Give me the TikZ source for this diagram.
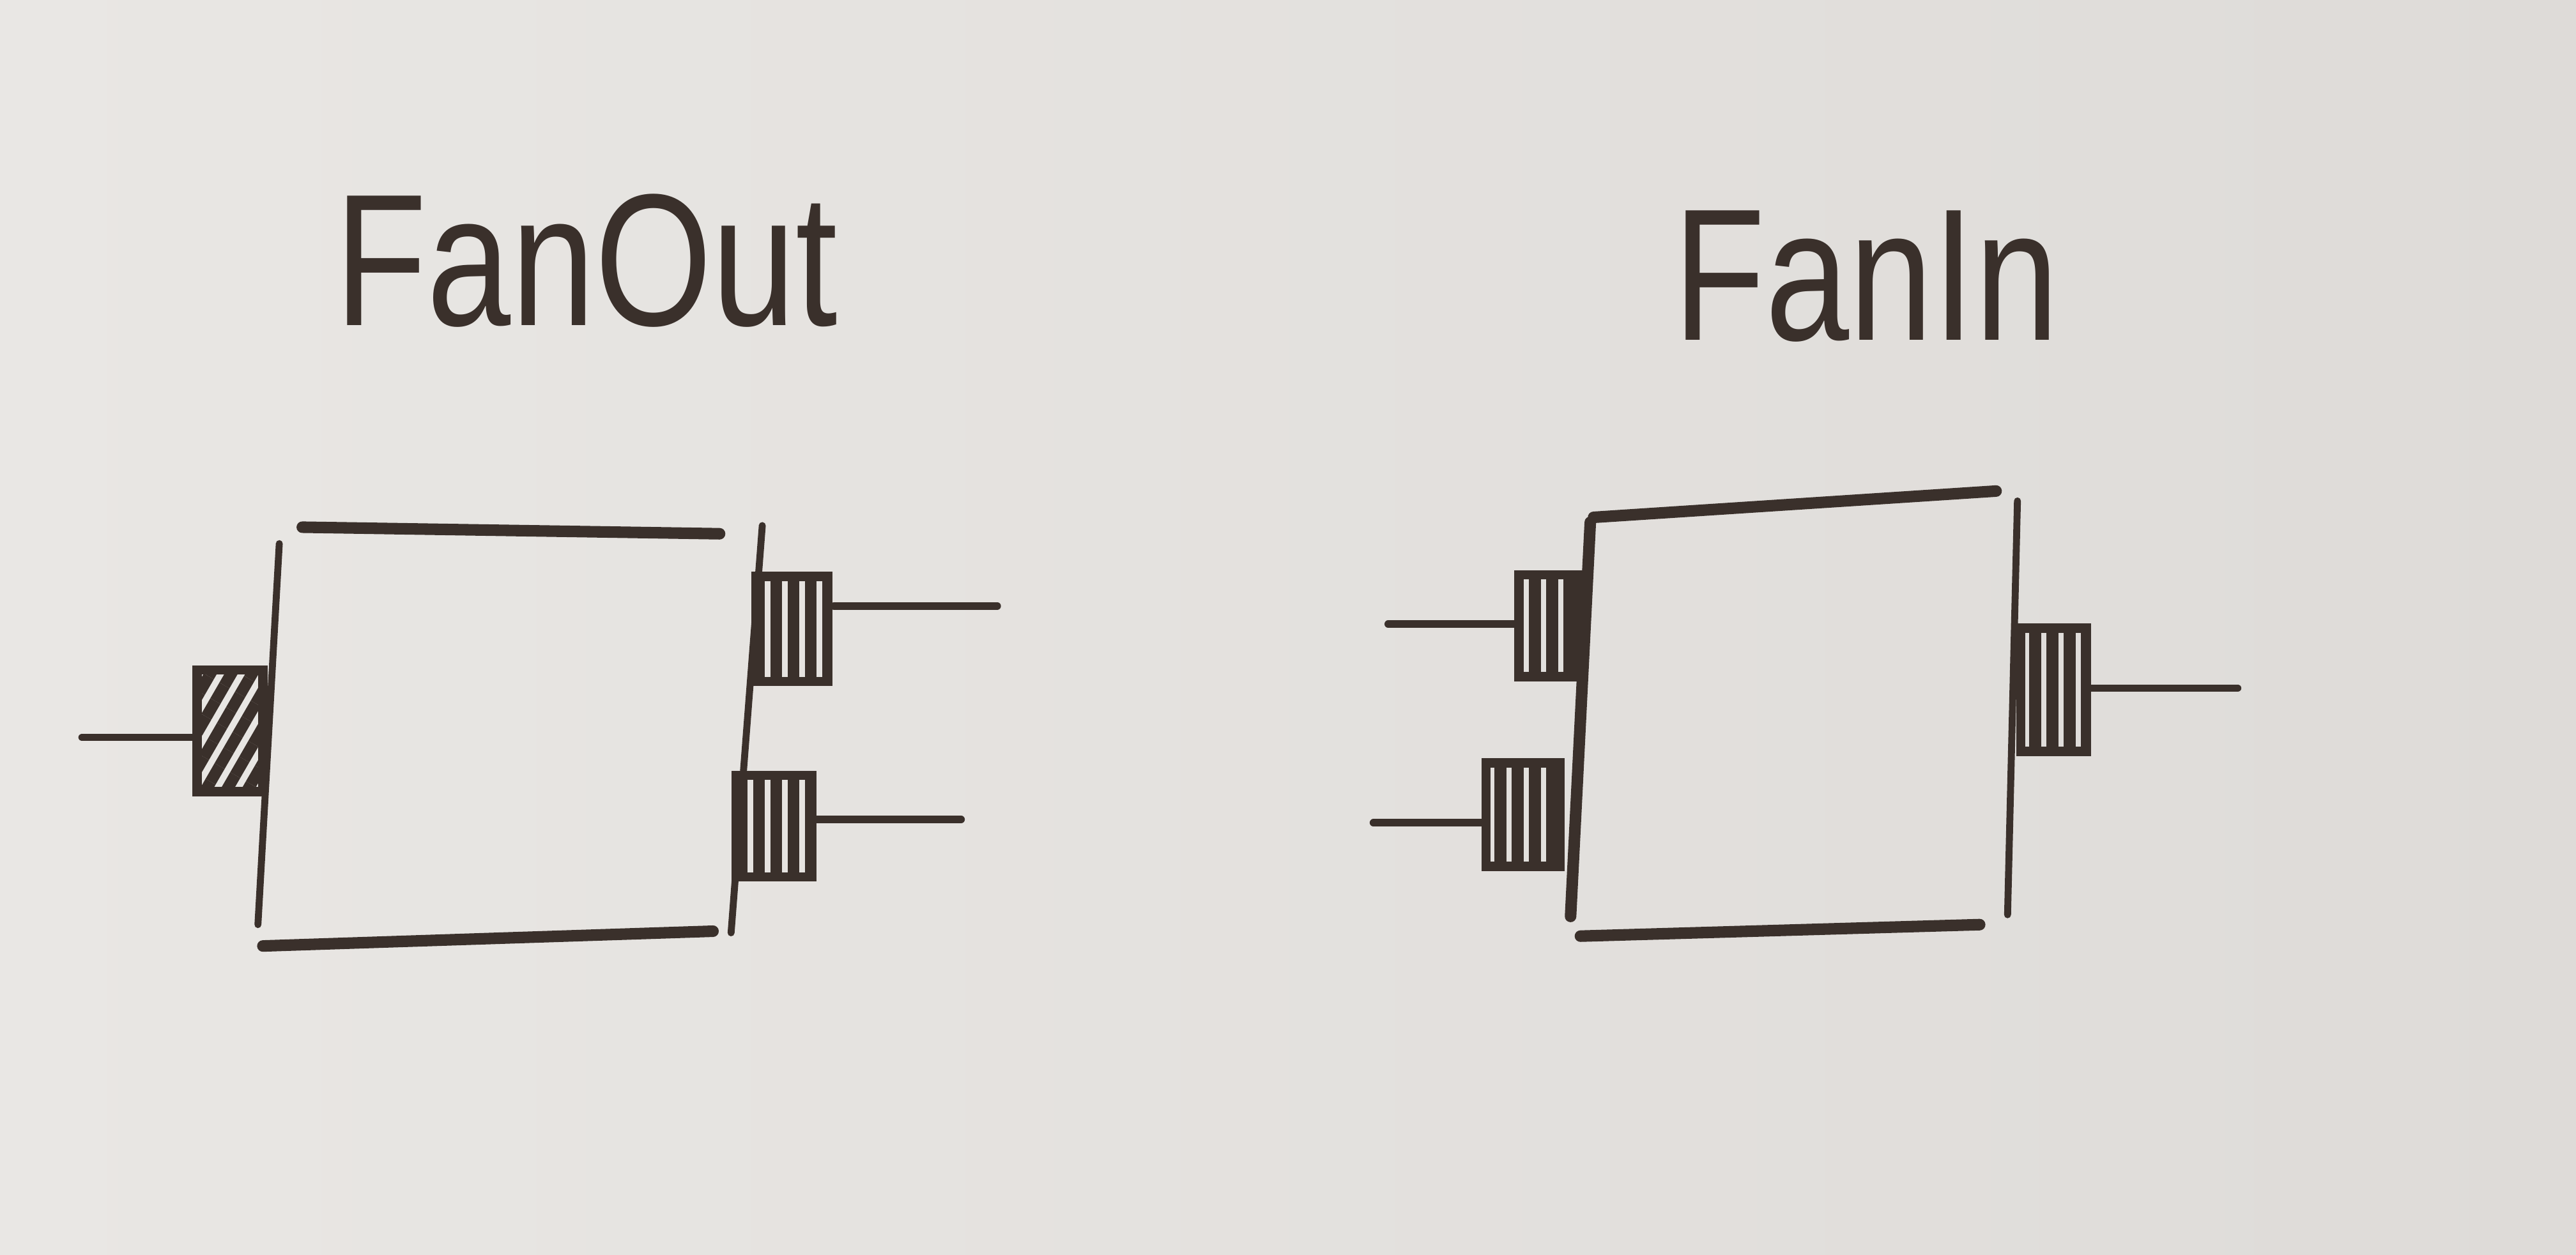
\documentclass[tikz,border=0pt]{standalone}
\usepackage{fontspec}
\setmainfont{Liberation Sans}
\usetikzlibrary{patterns.meta,calc}
\definecolor{ink}{HTML}{3A302B}
\definecolor{bgL}{HTML}{E9E7E4}
\definecolor{bgR}{HTML}{DEDBD8}
\begin{document}
\begin{tikzpicture}[x=0.1mm,y=-0.1mm,
  heavy/.style={draw=ink,line width=2pt,line cap=round},
  thin/.style={draw=ink,line width=1.2pt,line cap=round},
  wire/.style={draw=ink,line width=1.3pt,line cap=round},
  portv/.style={draw=ink,line width=1.6pt,inner sep=0pt,
    pattern={Lines[angle=90,distance=1.05mm,line width=2.1pt]},pattern color=ink},
  portd/.style={draw=ink,line width=1.6pt,inner sep=0pt,
    pattern={Lines[angle=60,distance=1.1mm,line width=2pt]},pattern color=ink},
  title/.style={text=ink,inner sep=0pt,font=\fontsize{32.6}{36}\selectfont}]
% board
\shade[left color=bgL,right color=bgR] (0,0) rectangle (1568,764);
\useasboundingbox (0,0) rectangle (1568,764);

% ---------- Fan Out ----------
\node[title,anchor=base] (t1) at (357,198) {\scalebox{0.8}[1]{FanOut}};
% box sides
\draw[heavy] (184,321) -- (438,325);
\draw[heavy] (160,576) -- (434,567);
\draw[thin] (170,331) -- (157,563);
\draw[thin] (464,320) -- (445,568);
% ports
\node[portd,minimum width=4mm,minimum height=7.4mm] (a1) at (140,445) {};
\node[portv,minimum width=4.4mm,minimum height=6.4mm] (a2) at (482,383) {};
\node[portv,minimum width=4.6mm,minimum height=6.2mm] (a3) at (471,503) {};
% wires
\coordinate (ain) at (50,449);
\coordinate (aout1) at (607,369);
\coordinate (aout2) at (585,499);
\draw[wire] (ain) -- (ain -| a1.west);
\draw[wire] (aout1 -| a2.east) -- (aout1);
\draw[wire] (aout2 -| a3.east) -- (aout2);

% ---------- Fan In ----------
\node[title,anchor=base] (t2) at (1136,207) {\scalebox{0.8}[1]{FanIn}};
\draw[heavy] (970,315) -- (1215,299);
\draw[heavy] (962,570) -- (1205,563);
\draw[heavy] (968,318) -- (956,558);
\draw[thin] (1228,305) -- (1222,557);
\node[portv,minimum width=3.7mm,minimum height=6.2mm] (b1) at (943,381) {};
\node[portv,minimum width=4.5mm,minimum height=6.3mm] (b2) at (927,496) {};
\node[portv,minimum width=4mm,minimum height=7.5mm] (b3) at (1250,420) {};
\coordinate (bin1) at (845,380);
\coordinate (bin2) at (836,501);
\coordinate (bout) at (1362,419);
\draw[wire] (bin1) -- (bin1 -| b1.west);
\draw[wire] (bin2) -- (bin2 -| b2.west);
\draw[wire] (bout -| b3.east) -- (bout);
\end{tikzpicture}
\end{document}
